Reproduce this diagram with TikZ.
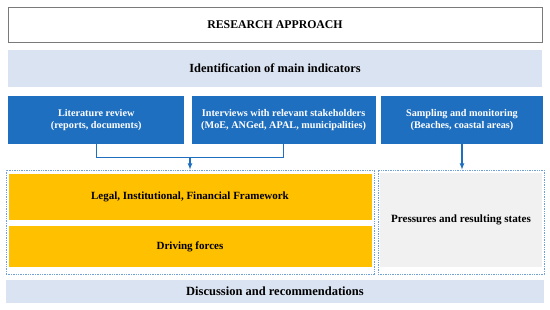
\documentclass[tikz,border=0pt]{standalone}
\usepackage{fontspec}
\setmainfont{Liberation Serif}
\usepackage{tikz}
\usetikzlibrary{positioning, calc, arrows}
\usepackage{xcolor}

\definecolor{boxblue}{HTML}{1F6FC0}
\definecolor{bandblue}{HTML}{DAE3F2}
\definecolor{framegray}{HTML}{7A7A7A}
\definecolor{dotblue}{HTML}{6FA0D6}
\definecolor{stateorange}{HTML}{FFC000}
\definecolor{stategray}{HTML}{F1F1F1}

\begin{document}
\begin{tikzpicture}[x=1pt, y=1pt,
  band/.style  = {fill=bandblue, inner sep=0pt, font=\bfseries\fontsize{12.4}{14}\selectfont},
  srcbox/.style = {fill=boxblue, text=white, align=center, inner sep=0pt, minimum height=48pt, font=\bfseries\fontsize{10.2}{11.5}\selectfont},
  group/.style = {draw=dotblue, line width=0.8pt, dash pattern=on 1.4pt off 1pt, inner sep=0pt, minimum height=104pt},
  state/.style = {inner sep=0pt, font=\bfseries\fontsize{11}{13}\selectfont},
  link/.style  = {draw=boxblue, line width=1.1pt}
  ]

\useasboundingbox (0,0) rectangle (550,310);

% title - research approach
\node[draw=framegray, line width=1pt, fill=white, minimum width=534pt, minimum height=35pt, font=\bfseries\fontsize{11.8}{13}\selectfont] (title) at (275,285) {RESEARCH APPROACH};

% ident
\node[band, minimum width=534pt, minimum height=37pt, below=7pt of title] (ident) {Identification of main indicators};

% source boxes
\node[srcbox, minimum width=176pt, anchor=north west] (lit) at (8,214) {Literature review\\(reports, documents)};
\node[srcbox, minimum width=184pt, right=7pt of lit] (inter) {Interviews with relevant stakeholders\\(MoE, ANGed, APAL, municipalities)};
\node[srcbox, minimum width=162pt, right=5pt of inter] (samp) {Sampling and monitoring\\(Beaches, coastal areas)};

% left group - framework and driving forces
\node[group, minimum width=368pt] (leftgrp) at (190,88) {};
\node[state, fill=stateorange, minimum width=363pt, minimum height=46pt, anchor=north] (legal) at ([yshift=-4pt]leftgrp.north) {Legal, Institutional, Financial Framework};
\node[state, fill=stateorange, minimum width=363pt, minimum height=41pt, below=6pt of legal] (driv) {Driving forces};

% right group - pressures
\node[group, minimum width=166pt] (rightgrp) at (461,88) {};
\node[state, fill=stategray, minimum width=162pt, minimum height=94pt, anchor=north, font=\bfseries\fontsize{11.1}{13}\selectfont] (press) at ([yshift=-3pt]rightgrp.north) {Pressures and resulting states};

% disc
\node[band, minimum width=538pt, minimum height=23pt, font=\bfseries\fontsize{12.5}{14}\selectfont] (disc) at (275,18.5) {Discussion and recommendations};

%--- lit + inter -> left group ---
\coordinate (join) at ([yshift=-12.7pt]lit.south -| leftgrp.north);
\draw[link] (lit.south) |- (join) -| (inter.south);
\draw[link, -latex] (join) -- (leftgrp.north);

%--- samp -> right group ---
\draw[link, -latex] (samp.south) -- (samp.south |- rightgrp.north);

\end{tikzpicture}
\end{document}
